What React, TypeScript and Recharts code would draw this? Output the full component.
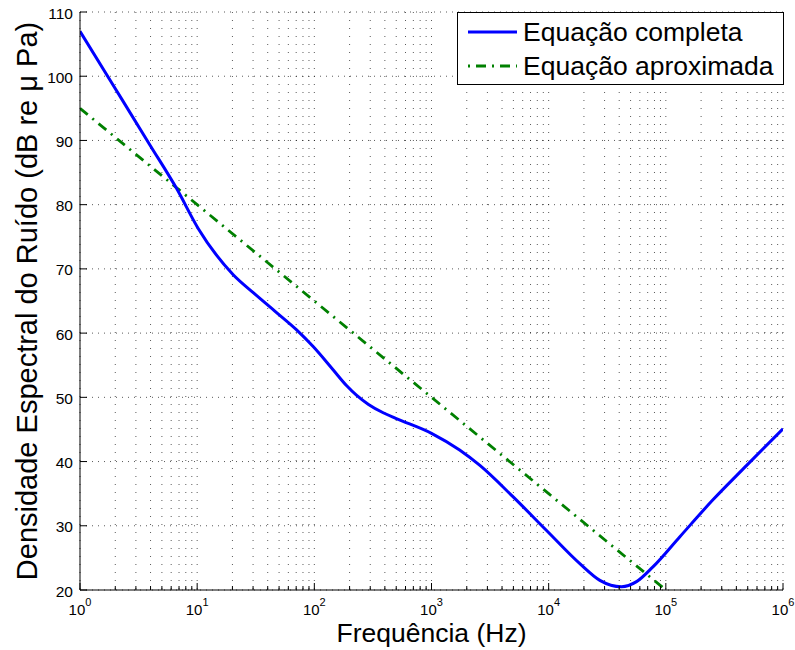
import React from 'react';
import { LineChart, Line, XAxis, YAxis, CartesianGrid, Legend } from 'recharts';

// ---- data ----
const fullFreq = [1, 1.92, 3.95, 6.68, 10.2, 20.3, 30.1, 47.6, 70.6, 97.7, 144.5, 189, 230, 290, 387, 501, 1000, 1738, 2588, 4977, 9550, 18450, 27350, 41880, 56230, 77620, 131800, 251200, 489800, 1000000];
const fullDb = [107.0, 98.6, 89.3, 82.5, 76.3, 69.1, 66.3, 63.2, 60.5, 57.9, 54.3, 51.8, 50.3, 48.9, 47.6, 46.7, 44.4, 41.8, 39.4, 34.5, 29.3, 24.1, 21.5, 20.5, 21.3, 23.6, 28.3, 34.0, 39.4, 45.1];
const approxFreq = [1, 10, 100, 1000, 10000, 100000];
const approxDb = [95, 80, 65, 50, 35, 20];

const seriesNames = ['Equação completa', 'Equação aproximada'];
const seriesColors = ['#0000ff', '#008000'];

const decades = [1, 10, 100, 1000, 10000, 100000];
const mantissas = [1, 2, 3, 4, 5, 6, 7, 8, 9];
const xTicks: number[] = [...decades.flatMap((d) => mantissas.map((m) => m * d)), 1000000];
const yTicks = [20, 30, 40, 50, 60, 70, 80, 90, 100, 110];
const xTitle = 'Frequência (Hz)';
const yTitle = 'Densidade Espectral do Ruído (dB re μ Pa)';

const fullData = fullFreq.map((f, i) => ({ f, v: fullDb[i] }));
const approxData = approxFreq.map((f, i) => ({ f, v: approxDb[i] }));

const FONT = '"Liberation Sans", Arial, Helvetica, sans-serif';

const isMajor = (v: number) => {
  const e = Math.log10(v);
  return Math.abs(e - Math.round(e)) < 1e-9;
};

const BottomTick = (props: any) => {
  const { x, y, payload } = props;
  const v = payload.value;
  const major = isMajor(v);
  return (
    <g>
      <line x1={x} x2={x} y1={y} y2={y - (major ? 7 : 4)} stroke="#000" strokeWidth={1} />
      {major && (
        <text x={x} y={y + 25} textAnchor="middle" fontFamily={FONT} fontSize={15} fill="#000">
          10
          <tspan dy={-9} fontSize={11}>{Math.round(Math.log10(v))}</tspan>
        </text>
      )}
    </g>
  );
};

const TopTick = (props: any) => {
  const { x, y, payload } = props;
  const major = isMajor(payload.value);
  return <line x1={x} x2={x} y1={y} y2={y + (major ? 7 : 4)} stroke="#000" strokeWidth={1} />;
};

const LeftTick = (props: any) => {
  const { x, y, payload } = props;
  return (
    <g>
      <line x1={x} x2={x + 7} y1={y} y2={y} stroke="#000" strokeWidth={1} />
      <text x={x - 7} y={y + 6.5} textAnchor="end" fontFamily={FONT} fontSize={15.5} fill="#000">
        {payload.value}
      </text>
    </g>
  );
};

const RightTick = (props: any) => {
  const { x, y } = props;
  return <line x1={x} x2={x - 7} y1={y} y2={y} stroke="#000" strokeWidth={1} />;
};

const YTitle = (props: any) => {
  const vb = props.viewBox || { x: 0, y: 12, width: 80, height: 578 };
  const cx = vb.x + 27;
  const cy = vb.y + vb.height / 2;
  return (
    <text
      x={cx}
      y={cy}
      transform={`rotate(-90, ${cx}, ${cy})`}
      textAnchor="middle"
      dominantBaseline="central"
      fontFamily={FONT}
      fontSize={29}
      fill="#000"
    >
      {yTitle}
    </text>
  );
};

const XTitle = (props: any) => {
  const vb = props.viewBox || { x: 80, y: 590, width: 703, height: 60 };
  return (
    <text x={vb.x + vb.width / 2} y={vb.y + 52} textAnchor="middle" fontFamily={FONT} fontSize={26.5} fill="#000">
      {xTitle}
    </text>
  );
};

const LegendBox = () => (
  <div style={{ width: 327, height: 73, border: '1px solid #000', background: '#fff', boxSizing: 'border-box' }}>
    <svg width={325} height={71} style={{ display: 'block' }}>
      <line x1={10} x2={59} y1={19} y2={19} stroke={seriesColors[0]} strokeWidth={3} />
      <text x={65} y={28} fontFamily={FONT} fontSize={26.5} fill="#000">{seriesNames[0]}</text>
      <line x1={10} x2={59} y1={53} y2={53} stroke={seriesColors[1]} strokeWidth={2.8} strokeDasharray="2 6 10 6" />
      <text x={65} y={62} fontFamily={FONT} fontSize={26.5} fill="#000">{seriesNames[1]}</text>
    </svg>
  </div>
);

export default function App() {
  return (
    <div style={{ position: 'absolute', left: 0, top: 0, background: '#fff' }}>
      <LineChart width={795} height={650} margin={{ top: 12, right: 12, bottom: 0, left: 0 }}>
        <CartesianGrid horizontal={false} vertical={true} stroke="#000" strokeOpacity={0.65} strokeDasharray="1 7" strokeWidth={1} />
        <CartesianGrid horizontal={true} vertical={false} stroke="#000" strokeOpacity={0.65} strokeDasharray="1 5" strokeWidth={1} />
        <XAxis
          dataKey="f"
          type="number"
          scale="log"
          domain={[1, 1000000]}
          allowDataOverflow
          ticks={xTicks}
          interval={0}
          height={60}
          tickSize={0}
          tickMargin={0}
          tickLine={false}
          axisLine={{ stroke: '#000', strokeWidth: 1 }}
          tick={BottomTick}
          label={{ content: XTitle }}
        />
        <XAxis
          xAxisId="top"
          orientation="top"
          dataKey="f"
          type="number"
          scale="log"
          domain={[1, 1000000]}
          allowDataOverflow
          ticks={xTicks}
          interval={0}
          height={0}
          tickSize={0}
          tickMargin={0}
          tickLine={false}
          axisLine={{ stroke: '#000', strokeWidth: 1 }}
          tick={TopTick}
        />
        <YAxis
          type="number"
          domain={[20, 110]}
          allowDataOverflow
          ticks={yTicks}
          interval={0}
          width={80}
          tickSize={0}
          tickMargin={0}
          tickLine={false}
          axisLine={{ stroke: '#000', strokeWidth: 1 }}
          tick={LeftTick}
          label={{ content: YTitle }}
        />
        <YAxis
          yAxisId="right"
          orientation="right"
          type="number"
          domain={[20, 110]}
          allowDataOverflow
          ticks={yTicks}
          interval={0}
          width={0}
          tickSize={0}
          tickMargin={0}
          tickLine={false}
          axisLine={{ stroke: '#000', strokeWidth: 1 }}
          tick={RightTick}
        />
        <Line
          data={approxData}
          dataKey="v"
          name={seriesNames[1]}
          type="linear"
          stroke={seriesColors[1]}
          strokeWidth={2.8}
          strokeDasharray="10 6 2 6"
          dot={false}
          activeDot={false}
          isAnimationActive={false}
        />
        <Line
          data={fullData}
          dataKey="v"
          name={seriesNames[0]}
          type="monotone"
          stroke={seriesColors[0]}
          strokeWidth={3}
          dot={false}
          activeDot={false}
          isAnimationActive={false}
        />
        <Legend
          layout="vertical"
          align="center"
          verticalAlign="middle"
          wrapperStyle={{ top: 12, left: 457, width: 327, height: 73 }}
          content={LegendBox}
        />
      </LineChart>
    </div>
  );
}
